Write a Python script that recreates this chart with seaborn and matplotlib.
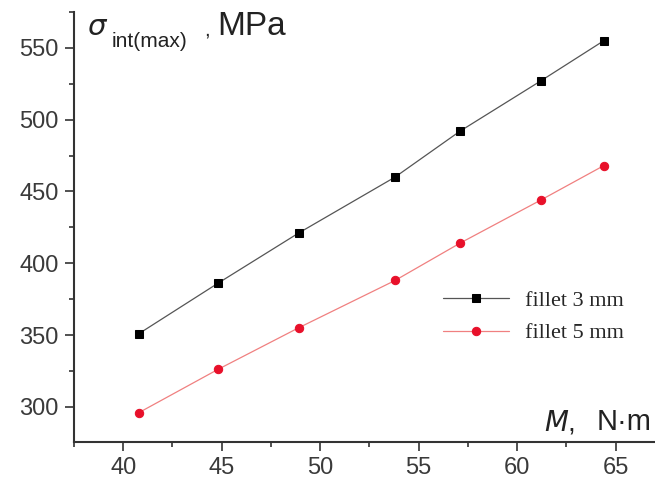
import pandas as pd
import numpy as np
import seaborn as sns
import matplotlib.pyplot as plt
from matplotlib.ticker import MultipleLocator

# data
moment = [40.8, 44.8, 48.9, 53.8, 57.1, 61.2, 64.4]
fillet3 = [351, 386, 421, 460, 492, 527, 555]
fillet5 = [296, 326, 355, 388, 414, 444, 468]
labels = ['fillet 3 mm', 'fillet 5 mm']

sns.set_style('ticks')
plt.rcParams['font.family'] = ['Liberation Sans', 'DejaVu Sans']

W, H = 655, 483
fig = plt.figure(figsize=(W / 100, H / 100), dpi=100)
ax = fig.add_axes([74 / W, 1 - 442 / H, 581 / W, 430 / H])

sns.lineplot(x=moment, y=fillet3, ax=ax, color='#555555', lw=0.9,
             marker='s', markersize=5.5, markerfacecolor='black',
             markeredgecolor='black', label=labels[0])
sns.lineplot(x=moment, y=fillet5, ax=ax, color='#f08080', lw=0.9,
             marker='o', markersize=6, markerfacecolor='#e8102a',
             markeredgecolor='#e8102a', label=labels[1])

ax.set_xlim(37.5, 67.0)
ax.set_ylim(275.5, 575)
ax.xaxis.set_major_locator(MultipleLocator(5))
ax.xaxis.set_minor_locator(MultipleLocator(2.5))
ax.yaxis.set_major_locator(MultipleLocator(50))
ax.yaxis.set_minor_locator(MultipleLocator(25))
ax.tick_params(which='major', direction='out', length=6.5, width=1.2,
               labelsize=17, colors='#333333', labelcolor='#3a3a3a', pad=4.5)
ax.tick_params(which='minor', direction='out', length=3.5, width=1.2, colors='#333333')
for s in ['left', 'bottom']:
    ax.spines[s].set_linewidth(1.5)
    ax.spines[s].set_color('#333333')
sns.despine(ax=ax)
ax.set_xlabel('')
ax.set_ylabel('')


def px(x, y):
    return x / W, 1 - y / H


# axis titles placed inside the plot like the original
fig.text(*px(87, 35), r'$\sigma$', fontsize=21, va='baseline', ha='left', color='#222222')
fig.text(*px(112, 47), 'int(max)', fontsize=15, va='baseline', ha='left', color='#222222')
fig.text(*px(204, 35), ',', fontsize=15, va='baseline', ha='left', color='#222222')
fig.text(*px(217, 35), 'MPa', fontsize=24, va='baseline', ha='left', color='#222222')
fig.text(*px(544, 430), r'$M$,', fontsize=20, va='baseline', ha='left', color='#222222')
fig.text(*px(597, 430), 'N·m', fontsize=21, va='baseline', ha='left', color='#222222')

leg = ax.legend(loc='upper left', bbox_to_anchor=((443 - 74) / 581, (442 - 290) / 430),
                frameon=False, borderpad=0, borderaxespad=0,
                prop={'family': 'Liberation Serif', 'size': 16},
                handlelength=2.95, labelspacing=0.55, handletextpad=0.75)

fig.savefig('out.png', dpi=100)
